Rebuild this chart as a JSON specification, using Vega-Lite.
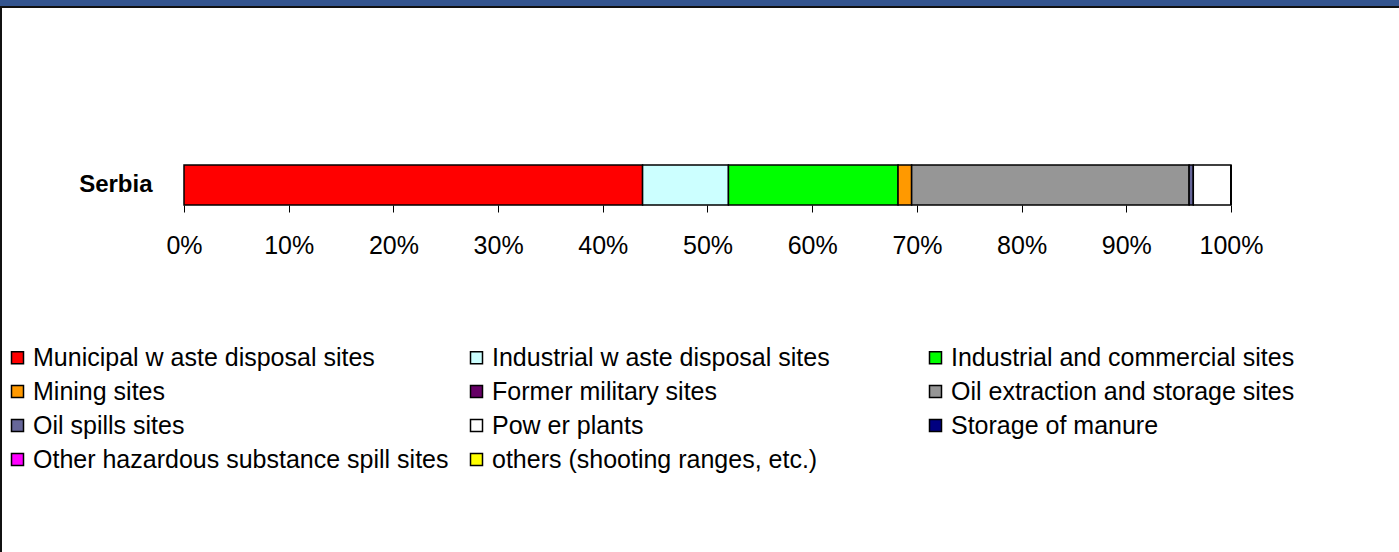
{
  "$schema": "https://vega.github.io/schema/vega-lite/v6.json",
  "autosize": "none",
  "width": 1420,
  "height": 560,
  "padding": {"top": 7, "left": 1, "right": 0, "bottom": 0},
  "background": "#34558f",
  "view": {"fill": "white", "stroke": "#111111", "strokeWidth": 2},
  "config": {"font": "Liberation Sans"},
  "data": {
    "values": [
      {"country": "Serbia", "category": "Municipal w aste disposal sites", "value": 43.8},
      {"country": "Serbia", "category": "Industrial w aste disposal sites", "value": 8.2},
      {"country": "Serbia", "category": "Industrial and commercial sites", "value": 16.2},
      {"country": "Serbia", "category": "Mining sites", "value": 1.3},
      {"country": "Serbia", "category": "Former military sites", "value": 0},
      {"country": "Serbia", "category": "Oil extraction and storage sites", "value": 26.5},
      {"country": "Serbia", "category": "Oil spills sites", "value": 0.4},
      {"country": "Serbia", "category": "Pow er plants", "value": 3.6},
      {"country": "Serbia", "category": "Storage of manure", "value": 0},
      {"country": "Serbia", "category": "Other hazardous substance spill sites", "value": 0},
      {"country": "Serbia", "category": "others (shooting ranges, etc.)", "value": 0}
    ]
  },
  "transform": [{"window": [{"op": "row_number", "as": "idx"}]}],
  "mark": {"type": "bar", "stroke": "black", "strokeWidth": 1.5},
  "encoding": {
    "y": {
      "field": "country",
      "type": "nominal",
      "scale": {"paddingInner": 0.84615, "paddingOuter": 1, "align": 0.30385},
      "axis": {
        "title": null,
        "orient": "left",
        "offset": -183,
        "ticks": false,
        "domain": false,
        "labelFontSize": 24,
        "labelFontWeight": "bold",
        "labelColor": "black",
        "labelPadding": 32
      }
    },
    "x": {
      "field": "value",
      "type": "quantitative",
      "stack": "normalize",
      "scale": {"domain": [-0.174785, 1.181475], "nice": false, "zero": false},
      "axis": {
        "title": null,
        "values": [0, 0.1, 0.2, 0.3, 0.4, 0.5, 0.6, 0.7, 0.8, 0.9, 1],
        "format": ".0%",
        "offset": -362,
        "domain": false,
        "grid": false,
        "tickColor": "black",
        "tickSize": 7,
        "labelFontSize": 25,
        "labelColor": "black",
        "labelPadding": 21
      }
    },
    "order": {"field": "idx", "type": "quantitative"},
    "color": {
      "field": "category",
      "type": "nominal",
      "sort": [
        "Municipal w aste disposal sites",
        "Industrial w aste disposal sites",
        "Industrial and commercial sites",
        "Mining sites",
        "Former military sites",
        "Oil extraction and storage sites",
        "Oil spills sites",
        "Pow er plants",
        "Storage of manure",
        "Other hazardous substance spill sites",
        "others (shooting ranges, etc.)"
      ],
      "scale": {
        "domain": [
          "Municipal w aste disposal sites",
          "Industrial w aste disposal sites",
          "Industrial and commercial sites",
          "Mining sites",
          "Former military sites",
          "Oil extraction and storage sites",
          "Oil spills sites",
          "Pow er plants",
          "Storage of manure",
          "Other hazardous substance spill sites",
          "others (shooting ranges, etc.)"
        ],
        "range": ["#FF0000", "#CCFFFF", "#00FF00", "#FF9900", "#660066", "#969696", "#666699", "#FFFFFF", "#000080", "#FF00FF", "#FFFF00"]
      },
      "legend": {
        "title": null,
        "orient": "none",
        "legendX": 4,
        "legendY": 338,
        "direction": "horizontal",
        "columns": 3,
        "gridAlign": "all",
        "columnPadding": 15,
        "rowPadding": 8,
        "symbolType": "square",
        "symbolSize": 144,
        "symbolStrokeColor": "black",
        "symbolStrokeWidth": 1.5,
        "symbolOpacity": 1,
        "labelFontSize": 25,
        "labelColor": "black",
        "labelOffset": 3,
        "labelLimit": 0
      }
    }
  }
}
